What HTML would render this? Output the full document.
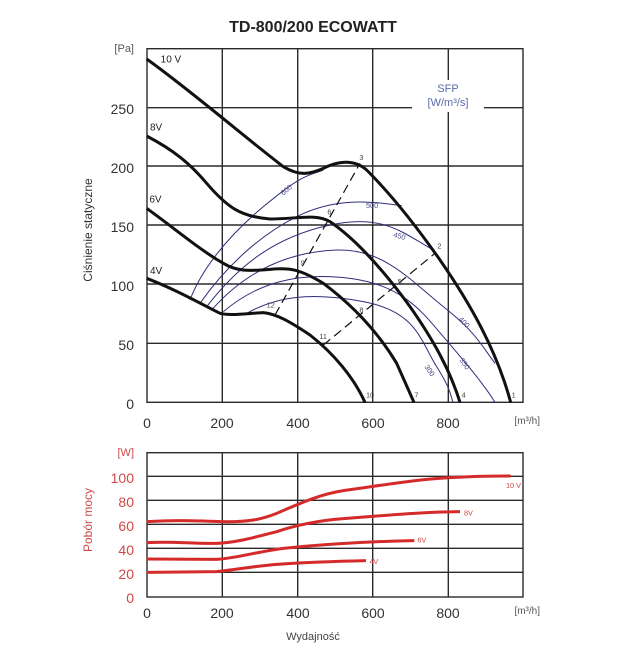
<!DOCTYPE html>
<html><head><meta charset="utf-8"><style>
html,body{margin:0;padding:0;background:#fff;}
svg{display:block;font-family:"Liberation Sans",sans-serif;}
.g{stroke:#2a2a2a;stroke-width:1.4;fill:none}
.k{stroke:#111;stroke-width:3;fill:none;vector-effect:non-scaling-stroke;stroke-linejoin:round}
.b{stroke:#2e2e7a;stroke-width:1;fill:none;vector-effect:non-scaling-stroke}
.d{stroke:#111;stroke-width:1.2;fill:none;stroke-dasharray:9 5;vector-effect:non-scaling-stroke}
.r{stroke:#d42a2a;stroke-width:3;fill:none;vector-effect:non-scaling-stroke}
.t{font-size:14px;fill:#333}
.rt{font-size:14px;fill:#d04848}
.s{font-size:22px;fill:#444}
.sb{font-size:22px;fill:#4a4a8a}
</style></head><body>
<svg width="621" height="658" viewBox="0 0 621 658">
<text x="313" y="32" text-anchor="middle" font-size="16" font-weight="bold" fill="#222">TD-800/200 ECOWATT</text>
<!-- top grid -->
<rect x="147" y="48.7" width="376" height="353.6" class="g"/>
<g class="g">
<line x1="222.3" y1="48.7" x2="222.3" y2="402.3"/><line x1="297.7" y1="48.7" x2="297.7" y2="402.3"/>
<line x1="372.7" y1="48.7" x2="372.7" y2="402.3"/><line x1="448.3" y1="48.7" x2="448.3" y2="80"/><line x1="448.3" y1="112" x2="448.3" y2="402.3"/>
<line x1="147" y1="343.3" x2="523" y2="343.3"/><line x1="147" y1="284" x2="523" y2="284"/>
<line x1="147" y1="225" x2="523" y2="225"/><line x1="147" y1="166" x2="523" y2="166"/>
<line x1="147" y1="107.7" x2="412" y2="107.7"/><line x1="484" y1="107.7" x2="523" y2="107.7"/>
</g>
<text x="448" y="92" text-anchor="middle" font-size="11" fill="#5a6aa8">SFP</text>
<text x="448" y="106" text-anchor="middle" font-size="11" fill="#5a6aa8">[W/m³/s]</text>
<g transform="translate(90,30) scale(0.33333)">
<path class="b" d="M300,810 C330,730 400,630 520,530 S650,440 700,420"/>
<path class="b" d="M330,820 C400,720 500,620 620,560 S850,515 935,527"/>
<path class="b" d="M350,830 C450,700 560,620 720,585 S940,610 1030,660"/>
<path class="b" d="M365,840 C470,720 600,665 740,660 S960,750 1060,830 S1170,940 1215,1000"/>
<path class="b" d="M400,845 C500,760 620,725 780,745 S1000,850 1060,920 S1180,1060 1215,1117"/>
<path class="b" d="M470,850 C560,800 660,785 820,815 S990,930 1040,1010 S1080,1100 1090,1117"/>
<path class="k" d="M170,87 C300,180 450,310 580,410 C630,440 660,432 700,415 C740,395 790,385 830,420 C900,490 980,590 1050,690 C1140,820 1220,960 1262,1117"/>
<path class="k" d="M170,318 C250,360 300,400 350,460 C410,530 450,560 540,567 C620,567 680,550 720,575 C800,630 880,720 960,830 C1030,930 1080,1020 1110,1117"/>
<path class="k" d="M170,535 C260,600 330,660 400,700 C440,725 480,723 540,718 C600,712 630,718 700,760 C780,820 860,900 920,1000 L972,1117"/>
<path class="k" d="M170,745 C260,780 330,820 390,850 C420,858 470,850 520,848 C560,852 600,875 660,915 C730,970 790,1040 825,1117"/>
<path class="d" d="M555,855 L810,400"/><path class="d" d="M700,945 L1035,670"/>
<g class="s">
<text x="808" y="390">3</text><text x="712" y="554">6</text><text x="632" y="707">9</text><text x="530" y="832">12</text>
<text x="1042" y="655">2</text><text x="923" y="762">5</text><text x="808" y="847">8</text><text x="688" y="927">11</text>
<text x="828" y="1103">10</text><text x="973" y="1103">7</text><text x="1115" y="1103">4</text><text x="1265" y="1103">1</text>
</g>
<g class="sb">
<text x="570" y="490" transform="rotate(-40 585 480)">600</text>
<text x="828" y="534">500</text><text x="910" y="626" transform="rotate(15 930 620)">450</text>
<text x="1100" y="880" transform="rotate(45 1115 880)">400</text><text x="1105" y="1005" transform="rotate(55 1120 1000)">350</text>
<text x="1000" y="1025" transform="rotate(55 1015 1020)">300</text>
</g>
<g font-size="30" fill="#222"><text x="212" y="98">10 V</text><text x="180" y="302">8V</text><text x="178" y="517">6V</text><text x="180" y="732">4V</text></g>
</g>
<g class="t" text-anchor="end">
<text x="134" y="409">0</text><text x="134" y="350">50</text><text x="134" y="291">100</text>
<text x="134" y="232">150</text><text x="134" y="173">200</text><text x="134" y="114">250</text>
</g>
<text x="134" y="52" text-anchor="end" font-size="11" fill="#555">[Pa]</text>
<g class="t" text-anchor="middle">
<text x="147" y="428">0</text><text x="222" y="428">200</text><text x="298" y="428">400</text>
<text x="373" y="428">600</text><text x="448" y="428">800</text>
</g>
<text x="540" y="424" text-anchor="end" font-size="10" fill="#555">[m³/h]</text>
<text transform="translate(92,230) rotate(-90)" text-anchor="middle" font-size="12" fill="#333">Ciśnienie statyczne</text>
<!-- bottom -->
<rect x="147" y="452.7" width="376" height="144.3" class="g"/>
<g class="g">
<line x1="222.3" y1="452.7" x2="222.3" y2="597"/><line x1="297.7" y1="452.7" x2="297.7" y2="597"/>
<line x1="372.7" y1="452.7" x2="372.7" y2="597"/><line x1="448.3" y1="452.7" x2="448.3" y2="597"/>
<line x1="147" y1="572.3" x2="523" y2="572.3"/><line x1="147" y1="548.3" x2="523" y2="548.3"/>
<line x1="147" y1="524.3" x2="523" y2="524.3"/><line x1="147" y1="500.3" x2="523" y2="500.3"/>
<line x1="147" y1="476.3" x2="523" y2="476.3"/>
</g>
<g transform="translate(90,440) scale(0.33333)">
<path class="r" d="M170,245 C260,240 300,242 400,245 C470,246 510,240 560,220 C620,195 680,165 760,152 C880,135 980,118 1080,113 C1160,108 1200,108 1262,108"/>
<path class="r" d="M170,308 C260,303 300,312 380,310 C440,308 500,290 560,275 C620,255 680,242 760,236 C900,225 1000,216 1110,215"/>
<path class="r" d="M170,357 L380,358 C440,355 500,335 580,325 C680,315 800,305 973,302"/>
<path class="r" d="M170,397 L380,395 C440,388 500,378 560,373 C650,367 740,364 828,362"/>
<g font-size="22" fill="#d04848"><text x="1248" y="144">10 V</text><text x="1122" y="226">8V</text><text x="982" y="308">6V</text><text x="838" y="372">4V</text></g>
</g>
<g class="rt" text-anchor="end">
<text x="134" y="603">0</text><text x="134" y="579">20</text><text x="134" y="555">40</text>
<text x="134" y="531">60</text><text x="134" y="507">80</text><text x="134" y="483">100</text>
</g>
<text x="134" y="456" text-anchor="end" font-size="11" fill="#d04848">[W]</text>
<g class="t" text-anchor="middle">
<text x="147" y="618">0</text><text x="222" y="618">200</text><text x="298" y="618">400</text>
<text x="373" y="618">600</text><text x="448" y="618">800</text>
</g>
<text x="540" y="614" text-anchor="end" font-size="10" fill="#555">[m³/h]</text>
<text transform="translate(92,520) rotate(-90)" text-anchor="middle" font-size="12" fill="#d04848">Pobór mocy</text>
<text x="313" y="640" text-anchor="middle" font-size="11" fill="#444">Wydajność</text>
</svg>
</body></html>
